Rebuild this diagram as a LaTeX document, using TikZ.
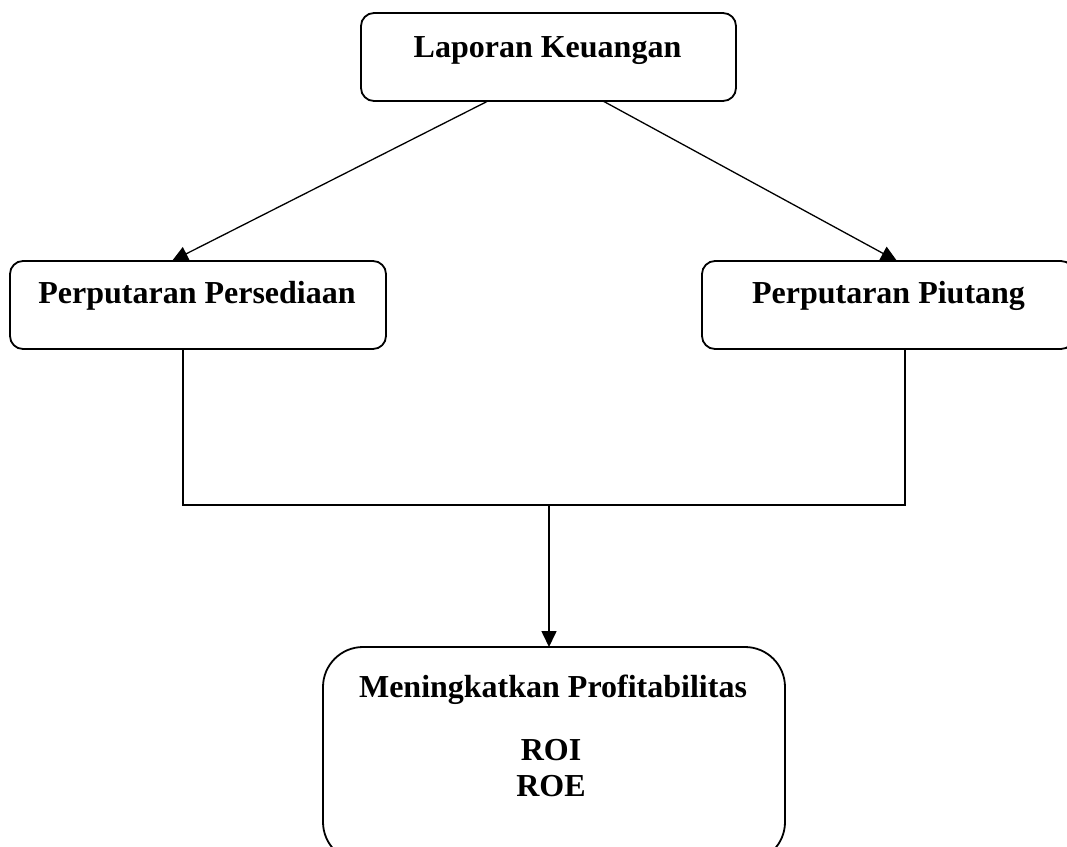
\documentclass[tikz,border=0pt]{standalone}
\usepackage{fontspec}
\setmainfont{Liberation Serif}
\usetikzlibrary{arrows.meta,calc}
\begin{document}
\begin{tikzpicture}[x=1pt,y=-1pt,
  box/.style={draw=black,line width=1.8pt,rounded corners=13pt,inner sep=0pt,outer sep=0pt},
  txt/.style={anchor=base,inner sep=0pt,font=\bfseries\fontsize{32}{36}\selectfont},
  conn/.style={draw=black,line width=1.6pt},
  arr/.style={conn,-{Triangle[length=16pt,width=15pt]}}]
\useasboundingbox[fill=white] (0,0) rectangle (1067,846);
% boxes
\node[box,minimum width=375pt,minimum height=88pt] (T) at (548.5,57) {};
\node[box,minimum width=376pt,minimum height=88pt] (L) at (198,305) {};
\node[box,minimum width=372pt,minimum height=88pt] (R) at (888,305) {};
\node[box,rounded corners=40pt,minimum width=462pt,minimum height=215pt] (B) at (554,754.5) {};
% texts
\node[txt] (tT) at (547.5,57) {Laporan Keuangan};
\node[txt] (tL) at (197,303) {Perputaran Persediaan};
\node[txt] (tR) at (888.5,303) {Perputaran Piutang};
\node[txt] (tB1) at (553,697) {Meningkatkan Profitabilitas};
\node[txt] (tB2) at (551,760) {ROI};
\node[txt] (tB3) at (551,796) {ROE};
% connectors
\draw[arr,line width=1.3pt] ($(T.south)+(-60.5,0)$) -- ($(L.north)+(-26,0)$);
\draw[arr,line width=1.3pt] ($(T.south)+(54.5,0)$) -- ($(R.north)+(9,0)$);
\coordinate (jl) at (183,505);
\coordinate (jr) at (905,505);
\coordinate (j) at (549,505);
\draw[conn] (L.south -| jl) -- (jl) -- (jr) -- (R.south -| jr);
\draw[arr] (j) -- (B.north -| j);
\end{tikzpicture}
\end{document}
